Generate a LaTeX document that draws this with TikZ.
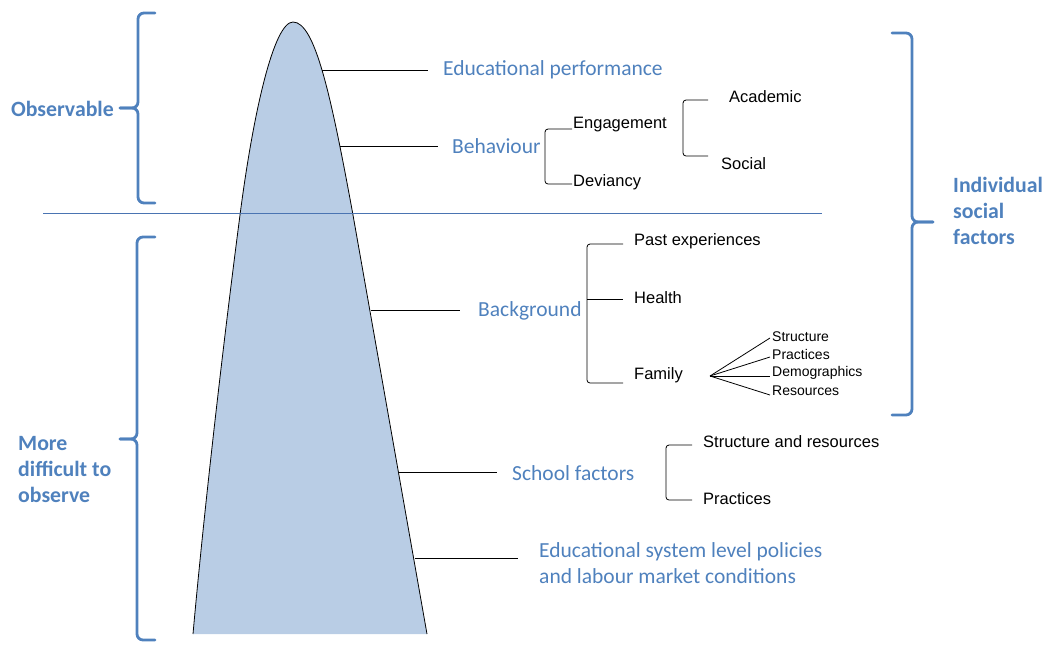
\documentclass[tikz,border=0pt]{standalone}
\usepackage{fontspec}
\newfontfamily\calfont{Carlito}
\newfontfamily\arialfont{Liberation Sans}
\definecolor{mblue}{RGB}{79,129,189}
\definecolor{mfill}{RGB}{185,205,229}
\definecolor{hline}{RGB}{74,116,178}
\tikzset{
  bluetxt/.style={font=\calfont\fontsize{21.5}{26}\selectfont, text=mblue, inner sep=0pt, anchor=west},
  boldtxt/.style={font=\calfont\bfseries\fontsize{21.8}{26}\selectfont, text=mblue, inner sep=0pt, align=left},
  blk/.style={font=\arialfont\fontsize{16.5}{20}\selectfont, inner sep=0pt, anchor=west},
  blksmall/.style={font=\arialfont\fontsize{14}{18}\selectfont, inner sep=0pt, anchor=west},
  conn/.style={draw=black, line width=0.8pt},
  bracketline/.style={draw=black, line width=0.8pt, rounded corners=3pt},
  brace/.style={draw=mblue, line width=2.8pt, rounded corners=6pt, line cap=round},
}
\begin{document}
\begin{tikzpicture}[x=1pt,y=-1pt]
\useasboundingbox (0,0) rectangle (1046,646);

% mountain
\fill[mfill] (193,634) .. controls (205,500) and (225,330) .. (240,215)
  .. controls (253.5,111) and (274,22) .. (293,22)
  .. controls (315,22) and (331,95) .. (353,215) -- (427,634) -- cycle;
\draw[line width=0.8pt] (193,634) .. controls (205,500) and (225,330) .. (240,215)
  .. controls (253.5,111) and (274,22) .. (293,22)
  .. controls (315,22) and (331,95) .. (353,215) -- (427,634);

% horizontal divider
\coordinate (hl) at (43,213);
\coordinate (hr) at (822,213);
\draw[hline, line width=1pt] (hl) -- (hr);

% braces
\draw[brace] (155,13) -- (138,13) -- (138,108) -- (120,108);
\draw[brace] (120,108) -- (138,108) -- (138,203) -- (155,203);
\draw[brace] (155,237) -- (137,237) -- (137,439) -- (120,439);
\draw[brace] (120,439) -- (137,439) -- (137,640) -- (155,640);
\draw[brace] (892,33) -- (912,33) -- (912,222) -- (933,222);
\draw[brace] (933,222) -- (912,222) -- (912,415) -- (892,415);

% side labels
\node[boldtxt, anchor=east] (obs) at (114,109) {Observable};
\node[boldtxt, anchor=west] (more) at (18,470) {More\\difficult to\\observe};
\node[boldtxt, anchor=west] (ind) at (953,211) {Individual\\social\\factors};

% blue level labels
\node[bluetxt] (ep) at (443,69.5) {Educational performance};
\node[bluetxt] (beh) at (452,146.5) {Behaviour};
\node[bluetxt] (bg) at (478,310.5) {Background};
\node[bluetxt] (sf) at (512,473.5) {School factors};
\node[bluetxt, align=left] (es) at (539,563) {Educational system level policies\\and labour market conditions};

% mountain edge points
\coordinate (m1) at (322,70);
\coordinate (m2) at (340,146);
\coordinate (m3) at (371,310);
\coordinate (m4) at (399,472);
\coordinate (m5) at (415,558);
\draw[conn] (m1) -- ([xshift=-15pt]ep.west |- m1);
\draw[conn] (m2) -- ([xshift=-14pt]beh.west |- m2);
\draw[conn] (m3) -- ([xshift=-18pt]bg.west |- m3);
\draw[conn] (m4) -- ([xshift=-15pt]sf.west |- m4);
\draw[conn] (m5) -- ([xshift=-21pt]es.west |- m5);

% black sub-labels
\node[blk] (eng) at (573,125) {Engagement};
\node[blk] (dev) at (573,182) {Deviancy};
\node[blk] (acad) at (729,97) {Academic};
\node[blk] (soc) at (721,164) {Social};
\node[blk] (past) at (634,241) {Past experiences};
\node[blk] (health) at (634,298) {Health};
\node[blk] (fam) at (634,375) {Family};
\node[blksmall] (fs) at (772,336.5) {Structure};
\node[blksmall] (fp) at (772,354.5) {Practices};
\node[blksmall] (fd) at (772,372.5) {Demographics};
\node[blksmall] (fr) at (772,390.5) {Resources};
\node[blk] (sr) at (703,442) {Structure and resources};
\node[blk] (sp) at (703,499) {Practices};

% brackets
\coordinate (b1a) at (572,129);
\coordinate (b1b) at (572,184);
\draw[bracketline] (b1a) -- (545,129) -- (545,184) -- (b1b);
\coordinate (b2a) at (708,100);
\coordinate (b2b) at (708,156);
\draw[bracketline] (b2a) -- (683,100) -- (683,156) -- (b2b);
\coordinate (b3a) at (623,244);
\coordinate (b3m) at (623,299);
\coordinate (b3b) at (623,383);
\draw[bracketline] (b3a) -- (587,244) -- (587,383) -- (b3b);
\draw[conn] (587,299) -- (b3m);
\coordinate (b4a) at (692,445);
\coordinate (b4b) at (692,500);
\draw[bracketline] (b4a) -- (666,445) -- (666,500) -- (b4b);

% family fan
\coordinate (ff) at (710,376);
\coordinate (f1) at (770,338);
\coordinate (f2) at (770,357);
\coordinate (f3) at (770,376);
\coordinate (f4) at (770,395);
\draw[conn] (ff) -- (f1);
\draw[conn] (ff) -- (f2);
\draw[conn] (ff) -- (f3);
\draw[conn] (ff) -- (f4);
\end{tikzpicture}
\end{document}
